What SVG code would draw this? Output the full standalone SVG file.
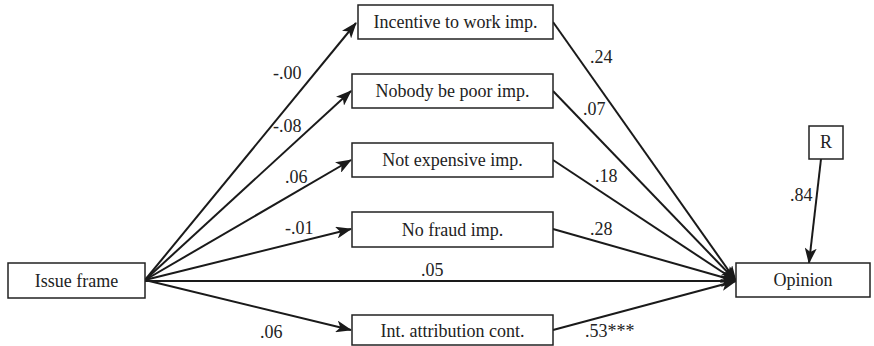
<svg xmlns="http://www.w3.org/2000/svg" width="874" height="346" viewBox="0 0 874 346">
<style>
.box{fill:#fff;stroke:#222;stroke-width:1.5}
.lbl{font-family:"Liberation Serif","Times New Roman",serif;font-size:18px;fill:#222}
.ctr{text-anchor:middle}
.edge{stroke:#1a1a1a;stroke-width:2;fill:none;marker-end:url(#ah)}
</style>
<defs>
<marker id="ah" markerUnits="userSpaceOnUse" markerWidth="16" markerHeight="12" refX="15" refY="6" orient="auto">
<path d="M0,0 L16,6 L0,12 L4,6 Z" fill="#1a1a1a"/>
</marker>
</defs>
<g id="connectors">
<line class="edge" x1="145" y1="280" x2="356" y2="23"/>
<line class="edge" x1="145" y1="280" x2="351" y2="91"/>
<line class="edge" x1="145" y1="280" x2="351" y2="160"/>
<line class="edge" x1="145" y1="280" x2="351" y2="229"/>
<line class="edge" x1="145" y1="280" x2="351" y2="330"/>
<line class="edge" x1="145" y1="281" x2="736" y2="281"/>
<line class="edge" x1="553" y1="22" x2="736" y2="281"/>
<line class="edge" x1="553" y1="91" x2="736" y2="281"/>
<line class="edge" x1="553" y1="160" x2="736" y2="281"/>
<line class="edge" x1="553" y1="229" x2="736" y2="281"/>
<line class="edge" x1="553" y1="330" x2="736" y2="281"/>
<line class="edge" x1="821" y1="159" x2="809" y2="263"/>
<text class="lbl" x="273" y="79">-.00</text>
<text class="lbl" x="273" y="132">-.08</text>
<text class="lbl" x="285" y="183">.06</text>
<text class="lbl" x="285" y="234">-.01</text>
<text class="lbl" x="260" y="338">.06</text>
<text class="lbl" x="421" y="276">.05</text>
<text class="lbl" x="590" y="63">.24</text>
<text class="lbl" x="583" y="115">.07</text>
<text class="lbl" x="595" y="182">.18</text>
<text class="lbl" x="590" y="235">.28</text>
<text class="lbl" x="585" y="337">.53***</text>
<text class="lbl" x="790" y="201">.84</text>
</g>
<g id="issue-frame">
<rect class="box" x="8" y="263" width="137" height="35"/>
<text class="lbl ctr" x="76.5" y="287">Issue frame</text>
</g>
<g id="incentive">
<rect class="box" x="358" y="5" width="195" height="34"/>
<text class="lbl ctr" x="455.5" y="28">Incentive to work imp.</text>
</g>
<g id="nobody-poor">
<rect class="box" x="352" y="74" width="201" height="34"/>
<text class="lbl ctr" x="452.5" y="97">Nobody be poor imp.</text>
</g>
<g id="not-expensive">
<rect class="box" x="352" y="143" width="201" height="34"/>
<text class="lbl ctr" x="452.5" y="166">Not expensive imp.</text>
</g>
<g id="no-fraud">
<rect class="box" x="352" y="212" width="201" height="35"/>
<text class="lbl ctr" x="452.5" y="236">No fraud imp.</text>
</g>
<g id="int-attribution">
<rect class="box" x="352" y="315" width="201" height="30"/>
<text class="lbl ctr" x="452.5" y="337">Int. attribution cont.</text>
</g>
<g id="opinion">
<rect class="box" x="736" y="263" width="134" height="34"/>
<text class="lbl ctr" x="803" y="286">Opinion</text>
</g>
<g id="r">
<rect class="box" x="809" y="126" width="34" height="33"/>
<text class="lbl ctr" x="826" y="148">R</text>
</g>
</svg>
